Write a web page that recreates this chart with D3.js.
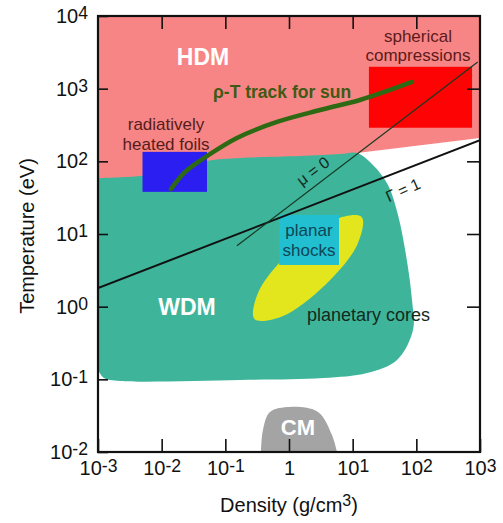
<!DOCTYPE html>
<html>
<head>
<meta charset="utf-8">
<script src="https://cdn.jsdelivr.net/npm/d3@7"></script>
<style>
  body { margin: 0; background: #fff; }
</style>
</head>
<body>
<div id="root"></div>
<script>
// Density (g/cm3) on x, Temperature (eV) on y, both log
const densityTicks = [1e-3, 1e-2, 1e-1, 1, 1e1, 1e2, 1e3];
const tempTicks = [1e-2, 1e-1, 1, 1e1, 1e2, 1e3, 1e4];
const topTicks = [1e-2, 1e-1, 1, 1e1, 1e2];
const rightTicks = [1, 1e1, 1e2, 1e3];

// regions as [density, temperature]
const hdmRegion = [[1e-3, 1e4], [1e3, 1e4], [1e3, 210], [11.7, 130], [11.7, 50], [1e-3, 50]];
const wdmRegion = [[1e-3, 59], [0.00457, 62.9], [0.0162, 76], [0.0515, 101], [0.17, 111], [1.49, 118],
  [6.32, 126], [11.7, 130], [20.8, 89], [35.9, 47.2], [51.5, 18.3], [68.8, 5.14], [85.5, 1.24],
  [88.6, 0.478], [49.7, 0.185], [16.8, 0.122], [3.42, 0.104], [0.17, 0.098], [0.00222, 0.095],
  [0.00124, 0.104], [1e-3, 0.135]];
const cmRegion = [[0.363, 0.01], [0.39, 0.0201], [0.502, 0.0356], [1.04, 0.0417], [2.85, 0.0356],
  [4.73, 0.0171], [5.67, 0.01]];
const planetaryCores = [[13.8, 17.2], [11.9, 7.24], [3.62, 1.96], [0.773, 0.735], [0.287, 0.675],
  [0.332, 1.6], [1.09, 5.91], [5.11, 15.8]];
const foilsBox = [[0.005, 38], [0.0515, 135]];
const sphericalBox = [[18, 290], [750, 2000]];
const shocksBox = [[0.7, 3.75], [6.1, 18.3]];
const sunTrack = [[0.014, 41.6], [0.0232, 71], [0.0515, 118], [0.152, 210], [0.647, 348],
  [3.07, 508], [13, 698], [38.5, 959], [85.5, 1236]];
const gammaLine = [[1e-3, 1.8], [1e3, 195]];
const muLine = [[0.152, 6.9], [920, 2330]];

// annotation texts and where they sit (data coords)
const labelText = ['HDM', 'WDM', 'CM', 'ρ-T track for sun', 'radiatively', 'heated foils',
  'spherical', 'compressions', 'planar', 'shocks', 'planetary cores', 'μ = 0', 'Γ = 1'];
const labelAt = [[0.0446, 2120], [0.025, 0.769], [1.38, 0.0171], [0.064, 745], [0.0117, 270],
  [0.0117, 143], [106, 4385], [106, 2404], [2.06, 9.4], [2.06, 4.98], [1.92, 0.635],
  [2.38, 73.6], [61.7, 40.3]];

const root = document.getElementById('root');
const width = 503, height = 523;
const mLeft = 98, mRight = 480, mTop = 16, mBottom = 452;
const font = "'Liberation Sans', Arial, Helvetica, sans-serif";

const svg = d3.select(root).append('svg')
  .attr('width', width)
  .attr('height', height)
  .style('font-family', font);

const x = d3.scaleLog().domain([1e-3, 1e3]).range([mLeft, mRight]);
const y = d3.scaleLog().domain([1e-2, 1e4]).range([mBottom, mTop]);

const smooth = d3.line().x(d => x(d[0])).y(d => y(d[1])).curve(d3.curveCatmullRom.alpha(0.5));
const straight = d3.line().x(d => x(d[0])).y(d => y(d[1]));
const closedSmooth = d3.line().x(d => x(d[0])).y(d => y(d[1])).curve(d3.curveCatmullRomClosed.alpha(0.5));

const plot = svg.append('g');
plot.append('clipPath').attr('id', 'clip')
  .append('rect').attr('x', mLeft).attr('y', mTop).attr('width', mRight - mLeft).attr('height', mBottom - mTop);
const area = plot.append('g').attr('clip-path', 'url(#clip)');

// regions
area.append('path').attr('d', straight(hdmRegion) + 'Z').attr('fill', '#f88585');
area.append('path').attr('d', smooth(wdmRegion) + 'Z').attr('fill', '#3eb59b');

const box = (b, col) => area.append('rect')
  .attr('x', x(b[0][0])).attr('y', y(b[1][1]))
  .attr('width', x(b[1][0]) - x(b[0][0]))
  .attr('height', y(b[0][1]) - y(b[1][1]))
  .attr('fill', col);

box(foilsBox, '#2a1ff0');
box(sphericalBox, '#fd0303');
area.append('path').attr('d', closedSmooth(planetaryCores)).attr('fill', '#e3e61c');
box(shocksBox, '#22bfd0');
area.append('path').attr('d', smooth(cmRegion) + 'Z').attr('fill', '#a4a4a4');

// lines
area.append('path').attr('d', straight(gammaLine))
  .attr('fill', 'none').attr('stroke', '#111').attr('stroke-width', 2);
area.append('path').attr('d', straight(muLine))
  .attr('fill', 'none').attr('stroke', '#173a22').attr('stroke-width', 1.2);
area.append('path').attr('d', smooth(sunTrack))
  .attr('fill', 'none').attr('stroke', '#2e6a14').attr('stroke-width', 4.5)
  .attr('stroke-linecap', 'round');

// annotation styles
const labelStyle = [
  {size: 23, weight: 'bold', fill: '#fff', anchor: 'middle'},
  {size: 23, weight: 'bold', fill: '#fff', anchor: 'middle'},
  {size: 22, weight: 'bold', fill: '#fff', anchor: 'middle'},
  {size: 17.5, weight: 'bold', fill: '#3e5a14', anchor: 'start'},
  {size: 17, weight: 'normal', fill: '#561c1c', anchor: 'middle'},
  {size: 17, weight: 'normal', fill: '#561c1c', anchor: 'middle'},
  {size: 17, weight: 'normal', fill: '#5e1a1a', anchor: 'middle'},
  {size: 17, weight: 'normal', fill: '#5e1a1a', anchor: 'middle'},
  {size: 17, weight: 'normal', fill: '#0e4656', anchor: 'middle'},
  {size: 17, weight: 'normal', fill: '#0e4656', anchor: 'middle'},
  {size: 18, weight: 'normal', fill: '#142a1c', anchor: 'start'},
  {size: 16, weight: 'normal', fill: '#142a1c', anchor: 'middle', rot: -37, central: true},
  {size: 16, weight: 'normal', fill: '#142a1c', anchor: 'middle', rot: -24, central: true}
];

labelText.forEach((t, i) => {
  const s = labelStyle[i];
  const px = x(labelAt[i][0]), py = y(labelAt[i][1]);
  svg.append('text')
    .attr('transform', `translate(${px},${py})` + (s.rot ? `rotate(${s.rot})` : ''))
    .attr('text-anchor', s.anchor)
    .attr('dy', s.central ? '0.35em' : 0)
    .attr('font-size', s.size)
    .attr('font-weight', s.weight)
    .attr('fill', s.fill)
    .text(t);
});

// Axes
const powerLabel = (sel, oneAsPlain) => sel.selectAll('.tick text').each(function(d) {
  const e = Math.round(Math.log10(d));
  const t = d3.select(this).text(null);
  if (e === 0 && oneAsPlain) { t.append('tspan').text('1'); return; }
  t.append('tspan').text('10');
  t.append('tspan').attr('font-size', '0.88em').attr('dy', '-0.2em').text(e);
});

const xAxis = d3.axisBottom(x).tickValues(densityTicks).tickSizeInner(-13).tickSizeOuter(0).tickPadding(9);
const gx = svg.append('g').attr('transform', `translate(0,${mBottom})`).call(xAxis);
powerLabel(gx, true);

const yAxis = d3.axisLeft(y).tickValues(tempTicks).tickSizeInner(-10).tickSizeOuter(0).tickPadding(10);
const gy = svg.append('g').attr('transform', `translate(${mLeft},0)`).call(yAxis);
powerLabel(gy, false);

svg.append('g').attr('transform', `translate(0,${mTop})`)
  .call(d3.axisTop(x).tickValues(topTicks).tickSizeInner(-13).tickSizeOuter(0).tickFormat(''));
svg.append('g').attr('transform', `translate(${mRight},0)`)
  .call(d3.axisRight(y).tickValues(rightTicks).tickSizeInner(-13).tickSizeOuter(0).tickFormat(''));

svg.selectAll('.domain').remove();
svg.selectAll('.tick line').attr('stroke', '#111').attr('stroke-width', 1.6);
svg.selectAll('.tick text').attr('font-size', 20).attr('fill', '#111').attr('font-family', font);
svg.selectAll('g').filter(function() { return this.getAttribute('font-family') === 'sans-serif'; })
  .attr('font-family', font);

svg.append('rect')
  .attr('x', mLeft).attr('y', mTop)
  .attr('width', mRight - mLeft).attr('height', mBottom - mTop)
  .attr('fill', 'none').attr('stroke', '#111').attr('stroke-width', 2.2);

// Axis titles
svg.append('text')
  .attr('text-anchor', 'middle')
  .attr('transform', `translate(${(mLeft + mRight) / 2}, 512)`)
  .attr('font-size', 20).attr('fill', '#111')
  .call(t => {
    t.append('tspan').text('Density (g/cm');
    t.append('tspan').attr('font-size', '0.8em').attr('dy', '-0.4em').text('3');
    t.append('tspan').attr('dy', '0.32em').text(')');
  });

svg.append('text')
  .attr('text-anchor', 'middle')
  .attr('transform', `translate(34, ${(mTop + mBottom) / 2 + 2})rotate(-90)`)
  .attr('font-size', 20).attr('fill', '#111')
  .text('Temperature (eV)');
</script>
</body>
</html>
